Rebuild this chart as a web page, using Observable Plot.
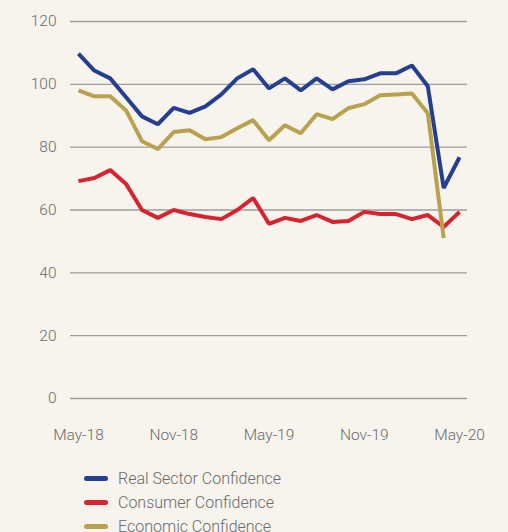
<!DOCTYPE html>
<html>
<head>
<meta charset="utf-8">
<script src="https://cdn.jsdelivr.net/npm/d3@7"></script>
<script src="https://cdn.jsdelivr.net/npm/@observablehq/plot@0.6"></script>
<style>
  html, body { margin: 0; padding: 0; background: #f7f4ee; }
  body { width: 508px; height: 532px; overflow: hidden; font-family: Roboto, sans-serif; }
  #legend { margin-left: 84px; margin-top: 11px; }
  .row { display: flex; align-items: center; height: 24px; color: #6a6a6a; font-size: 16px; font-weight: 300; }
  .sw { width: 24px; height: 5px; border-radius: 3px; margin-right: 10px; }
</style>
</head>
<body>
<div id="chart"></div>
<div id="legend"></div>
<script>
const months = ["May-18","Jun-18","Jul-18","Aug-18","Sep-18","Oct-18","Nov-18","Dec-18","Jan-19","Feb-19","Mar-19","Apr-19","May-19","Jun-19","Jul-19","Aug-19","Sep-19","Oct-19","Nov-19","Dec-19","Jan-20","Feb-20","Mar-20","Apr-20","May-20"];
const realSector = [109.8,104.4,101.9,95.9,89.8,87.3,92.5,90.9,93.0,96.8,101.9,104.8,98.7,101.9,98.1,101.9,98.4,101.0,101.6,103.5,103.5,106.0,99.4,67.0,76.8];
const consumer = [69.2,70.2,72.7,68.3,60.0,57.5,60.0,58.7,57.8,57.1,60.0,63.8,55.6,57.5,56.5,58.4,56.2,56.5,59.4,58.7,58.7,57.1,58.4,54.6,59.4];
const economic = [98.1,96.2,96.2,91.7,81.9,79.4,84.8,85.4,82.5,83.2,86.0,88.6,82.2,87.0,84.4,90.5,88.9,92.4,93.7,96.5,96.8,97.1,90.8,51.1];
const seriesNames = ["Real Sector Confidence","Consumer Confidence","Economic Confidence"];
const seriesColors = ["#243f8f","#d7222f","#b9a14f"];
const yTicks = [0,20,40,60,80,100,120];
const xTickLabels = ["May-18","Nov-18","May-19","Nov-19","May-20"];

const allSeries = [realSector, consumer, economic];
const rows = [];
allSeries.forEach((vals, s) => vals.forEach((v, i) => rows.push({i, v, series: seriesNames[s]})));

const xTicks = xTickLabels.map(l => months.indexOf(l));

const chart = Plot.plot({
  width: 508,
  height: 455,
  marginLeft: 70,
  marginRight: 41,
  marginTop: 21,
  marginBottom: 57,
  style: {background: "#f7f4ee", fontFamily: "Roboto, sans-serif", fontSize: "15.5px", color: "#6a6a6a", fontWeight: 300},
  x: {domain: [-0.5, months.length - 0.5], ticks: xTicks, tickFormat: i => months[i], tickSize: 0, tickPadding: 30, label: null},
  y: {domain: [0, 120], ticks: yTicks, tickSize: 0, tickPadding: 14, label: null},
  color: {domain: seriesNames, range: seriesColors},
  marks: [
    Plot.ruleY(yTicks, {stroke: "#9e9e9e", strokeWidth: 1.3}),
    Plot.line(rows, {x: "i", y: "v", z: "series", stroke: "series", strokeWidth: 4, strokeLinejoin: "miter", strokeLinecap: "butt"})
  ]
});
document.getElementById("chart").appendChild(chart);

const legend = document.getElementById("legend");
seriesNames.forEach((n, k) => {
  const r = document.createElement("div");
  r.className = "row";
  r.innerHTML = `<div class="sw" style="background:${seriesColors[k]}"></div><span>${n}</span>`;
  legend.appendChild(r);
});
</script>
</body>
</html>
